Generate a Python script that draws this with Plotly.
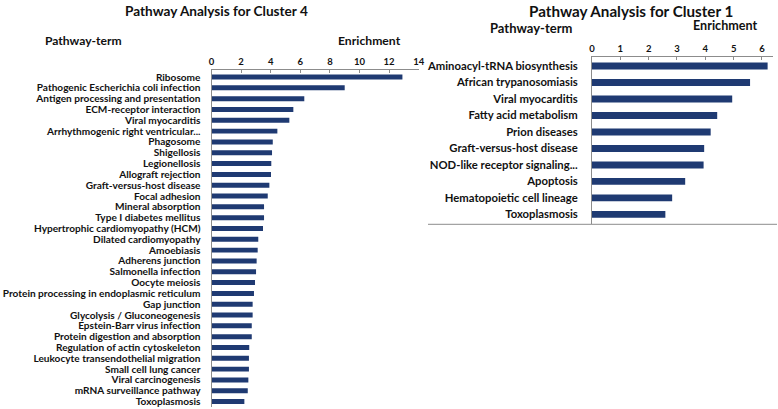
import plotly.graph_objects as go

W, H = 778, 409

# ---- data ----
c4_terms = [
    "Ribosome", "Pathogenic Escherichia coli infection", "Antigen processing and presentation",
    "ECM-receptor interaction", "Viral myocarditis", "Arrhythmogenic right ventricular...",
    "Phagosome", "Shigellosis", "Legionellosis", "Allograft rejection",
    "Graft-versus-host disease", "Focal adhesion", "Mineral absorption",
    "Type I diabetes mellitus", "Hypertrophic cardiomyopathy (HCM)", "Dilated cardiomyopathy",
    "Amoebiasis", "Adherens junction", "Salmonella infection", "Oocyte meiosis",
    "Protein processing in endoplasmic reticulum", "Gap junction", "Glycolysis / Gluconeogenesis",
    "Epstein-Barr virus infection", "Protein digestion and absorption",
    "Regulation of actin cytoskeleton", "Leukocyte transendothelial migration",
    "Small cell lung cancer", "Viral carcinogenesis", "mRNA surveillance pathway", "Toxoplasmosis",
]
c4_values = [12.9, 9.0, 6.27, 5.53, 5.26, 4.45, 4.14, 4.09, 4.04, 4.02,
             3.91, 3.80, 3.55, 3.55, 3.48, 3.16, 3.12, 3.05, 3.01, 2.94,
             2.87, 2.78, 2.78, 2.72, 2.72, 2.55, 2.53, 2.53, 2.49, 2.45, 2.22]
c4_ticks = [0, 2, 4, 6, 8, 10, 12, 14]

c1_terms = [
    "Aminoacyl-tRNA biosynthesis", "African trypanosomiasis", "Viral myocarditis",
    "Fatty acid metabolism", "Prion diseases", "Graft-versus-host disease",
    "NOD-like receptor signaling...", "Apoptosis", "Hematopoietic cell lineage", "Toxoplasmosis",
]
c1_values = [6.2, 5.58, 4.95, 4.42, 4.19, 3.96, 3.94, 3.29, 2.83, 2.59]
c1_ticks = [0, 1, 2, 3, 4, 5, 6]

BAR = "#1f3a72"
AX = "#8c8c8c"
FONT = "Lato"


def px(x):
    return x / W


def py(y):
    return 1 - y / H


fig = go.Figure()
fig.add_trace(go.Bar(x=c4_values, y=c4_terms, orientation="h", marker_color=BAR,
                     xaxis="x", yaxis="y", showlegend=False, width=0.46))
fig.add_trace(go.Bar(x=c1_values, y=c1_terms, orientation="h", marker_color=BAR,
                     xaxis="x2", yaxis="y2", showlegend=False, width=0.42))

tickfont = dict(family=FONT, size=9.5, color="#111", weight="bold")

common_x = dict(side="top", showgrid=False, zeroline=False, showline=True,
                linecolor=AX, linewidth=1, ticks="inside", ticklen=3,
                tickcolor=AX, tickfont=tickfont, automargin=False)
common_y = dict(type="category", showgrid=False, zeroline=False, showline=True,
                linecolor=AX, linewidth=1, ticks="", automargin=False)

fig.update_layout(
    template="none",
    width=W, height=H,
    margin=dict(l=0, r=0, t=0, b=0),
    paper_bgcolor="white", plot_bgcolor="white",
    xaxis=dict(domain=[px(211.5), px(418.7)], range=[0, 14], tickvals=c4_ticks,
               anchor="y", **common_x),
    yaxis=dict(domain=[py(407), py(70)], categoryarray=c4_terms,
               tickmode="array", tickvals=c4_terms,
               range=[30.5, -0.65], ticklabelstandoff=8,
               tickfont=dict(family=FONT, size=10.1, color="#111", weight="bold"),
               anchor="x", **common_y),
    xaxis2=dict(domain=[px(592), px(773)], range=[0, 6.39], tickvals=c1_ticks,
                anchor="y2", **common_x),
    yaxis2=dict(domain=[py(224.3), py(56.7)], categoryarray=c1_terms,
                tickmode="array", tickvals=c1_terms,
                range=[9.6, -0.56], ticklabelstandoff=11,
                tickfont=dict(family=FONT, size=11.3, color="#111", weight="bold"),
                anchor="x2", **common_y),
)

# bottom rule of right chart
fig.add_shape(type="line", xref="paper", yref="paper",
              x0=px(428), x1=px(777), y0=py(224.3), y1=py(224.3),
              line=dict(color=AX, width=1))

ann = [
    ("Pathway Analysis for Cluster 4", 216, 11, "center", 13.6),
    ("Pathway Analysis for Cluster 1", 631, 11, "center", 15.2),
    ("Pathway-term", 43, 40, "left", 12.1),
    ("Enrichment", 403, 40, "right", 12.2),
    ("Pathway-term", 488, 28, "left", 13),
    ("Enrichment", 760, 26, "right", 12.6),
]
for text, x, y, xa, size in ann:
    fig.add_annotation(text=text, x=px(x), y=py(y), xref="paper", yref="paper",
                       xanchor=xa, yanchor="middle", showarrow=False,
                       font=dict(family=FONT, size=size, color="#111", weight="bold"))

fig.write_html("out.html", config={"displayModeBar": False},
               post_script="document.body.style.margin='0';document.body.style.overflow='hidden';")
